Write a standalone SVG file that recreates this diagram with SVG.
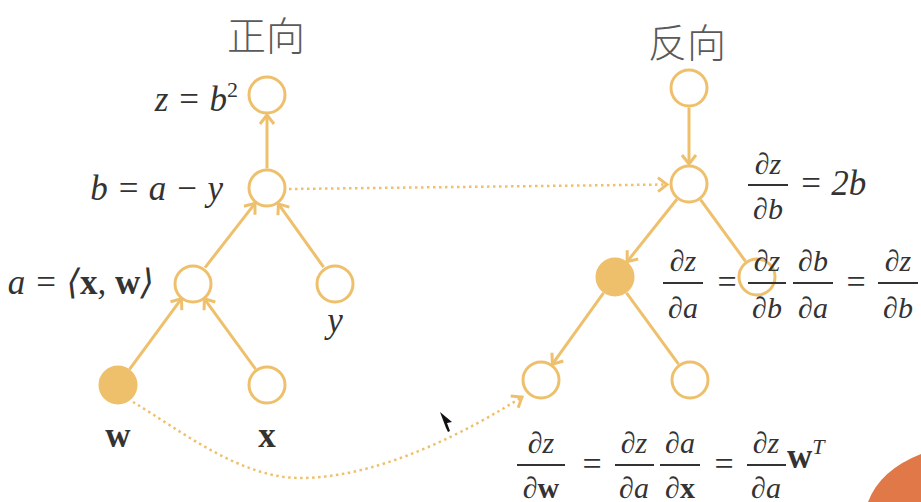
<svg xmlns="http://www.w3.org/2000/svg" width="921" height="502" viewBox="0 0 921 502">
<defs>
<style>
.node{fill:#ffffff;stroke:#EFC06C;stroke-width:3}
.filled{fill:#EFC06C;stroke:#EFC06C;stroke-width:3}
.edge{stroke:#EFC06C;stroke-width:3;fill:none}
.dot{stroke:#EFC06C;stroke-width:2.5;fill:none;stroke-dasharray:2.5 3.5}
.title{font-family:"Noto Sans CJK SC","Noto Sans",sans-serif;font-size:39px;font-weight:300;fill:#5a5a5a;text-anchor:middle}
.m{font-family:"Liberation Serif","DejaVu Serif",serif;font-size:35px;fill:#333;font-style:italic}
.f{font-family:"Liberation Serif","DejaVu Serif",serif;font-size:30px;fill:#333;font-style:italic;text-anchor:middle}
.eq{font-family:"Liberation Serif","DejaVu Serif",serif;font-size:34px;fill:#333;text-anchor:middle}
.b{font-style:normal;font-weight:bold}
.bar{stroke:#333;stroke-width:2}
</style>
<marker id="arr" markerUnits="userSpaceOnUse" markerWidth="20" markerHeight="20" viewBox="-12 -10 14 20" refX="0" refY="0" orient="auto">
<path d="M -9 -7 L 0 0 L -9 7" fill="none" stroke="#EFC06C" stroke-width="3"/>
</marker>
</defs>
<rect width="921" height="502" fill="#ffffff"/>

<text class="title" x="266" y="50">正向</text>
<text class="title" x="687" y="57">反向</text>

<g id="connectors">
<line class="edge" x1="267" y1="168.5" x2="267" y2="115" marker-end="url(#arr)"/>
<line class="edge" x1="205" y1="267.6" x2="255" y2="203.4" marker-end="url(#arr)"/>
<line class="edge" x1="323.6" y1="267.1" x2="278.4" y2="203.9" marker-end="url(#arr)"/>
<line class="edge" x1="129.5" y1="369.3" x2="181.5" y2="298.7" marker-end="url(#arr)"/>
<line class="edge" x1="255.6" y1="369.2" x2="204.4" y2="298.8" marker-end="url(#arr)"/>
<line class="edge" x1="689" y1="107.5" x2="689" y2="164" marker-end="url(#arr)"/>
<line class="edge" x1="676.9" y1="199.3" x2="627.1" y2="261.7" marker-end="url(#arr)"/>
<line class="edge" x1="700.5" y1="199.7" x2="745.5" y2="261.3"/>
<line class="edge" x1="603.6" y1="292.8" x2="552.4" y2="364.2" marker-end="url(#arr)"/>
<line class="edge" x1="626.5" y1="292.8" x2="678.5" y2="364.2"/>
<path class="dot" d="M 289 189 L 667 184.5" marker-end="url(#arr)"/>
<path class="dot" d="M 133 402 C 180 430 240 478 300 478 C 380 478 470 430 522 397" marker-end="url(#arr)"/>
</g>

<g id="node-z"><circle class="node" cx="267" cy="95" r="18"/><text class="m" x="238" y="111" text-anchor="end">z = b<tspan font-size="22" font-style="normal" dy="-14">2</tspan></text></g>
<g id="node-b"><circle class="node" cx="267" cy="188" r="18"/><text class="m" x="223" y="200" text-anchor="end">b = a − y</text></g>
<g id="node-a"><circle class="node" cx="193" cy="284" r="18"/><text class="m" x="154" y="294" text-anchor="end">a = ⟨<tspan class="b">x</tspan>, <tspan class="b">w</tspan>⟩</text></g>
<g id="node-y"><circle class="node" cx="335" cy="284" r="18"/><text class="m" x="335" y="332" text-anchor="middle">y</text></g>
<g id="node-w"><circle class="filled" cx="118" cy="385" r="18"/><text class="m b" x="118" y="447" text-anchor="middle">w</text></g>
<g id="node-x"><circle class="node" cx="267" cy="385" r="18"/><text class="m b" x="267" y="447" text-anchor="middle">x</text></g>

<g id="rnode-z"><circle class="node" cx="689" cy="88" r="18"/></g>
<g id="rnode-b"><circle class="node" cx="689" cy="184" r="18"/>
<line class="bar" x1="748" y1="185" x2="788" y2="185"/>
<text class="f" x="768" y="174">∂z</text><text class="f" x="768" y="219">∂b</text>
<text class="m" x="799" y="195">= 2b</text>
</g>
<g id="rnode-y"><circle class="node" cx="757" cy="277" r="18"/></g>
<g id="rnode-a"><circle class="filled" cx="615" cy="277" r="18"/>
<line class="bar" x1="663" y1="283" x2="703" y2="283"/>
<text class="f" x="683" y="271">∂z</text><text class="f" x="683" y="318">∂a</text>
<text class="eq" x="727" y="293">=</text>
<line class="bar" x1="748" y1="283" x2="786" y2="283"/>
<text class="f" x="767" y="271">∂z</text><text class="f" x="767" y="318">∂b</text>
<line class="bar" x1="793" y1="283" x2="833" y2="283"/>
<text class="f" x="813" y="271">∂b</text><text class="f" x="813" y="318">∂a</text>
<text class="eq" x="856" y="293">=</text>
<line class="bar" x1="878" y1="283" x2="918" y2="283"/>
<text class="f" x="898" y="271">∂z</text><text class="f" x="898" y="318">∂b</text>
</g>
<g id="rnode-w"><circle class="node" cx="541" cy="380" r="18"/>
<line class="bar" x1="517" y1="465" x2="565" y2="465"/>
<text class="f" x="541" y="453">∂z</text><text class="f" x="541" y="498">∂<tspan class="b">w</tspan></text>
<text class="eq" x="592" y="475">=</text>
<line class="bar" x1="615" y1="465" x2="654" y2="465"/>
<text class="f" x="634" y="453">∂z</text><text class="f" x="634" y="498">∂a</text>
<line class="bar" x1="660" y1="465" x2="700" y2="465"/>
<text class="f" x="680" y="453">∂a</text><text class="f" x="680" y="498">∂<tspan class="b">x</tspan></text>
<text class="eq" x="724" y="475">=</text>
<line class="bar" x1="747" y1="465" x2="786" y2="465"/>
<text class="f" x="766" y="453">∂z</text><text class="f" x="766" y="498">∂a</text>
<text class="m b" x="787" y="468">w<tspan font-size="22" font-weight="normal" font-style="italic" dy="-14">T</tspan></text>
</g>
<g id="rnode-x"><circle class="node" cx="690" cy="380" r="18"/></g>

<path d="M 446 428 L 440 412 L 452 422 L 447 423 L 450 431 L 448 432 Z" fill="#111"/>
<path d="M 868 502 Q 880 470 921 454 L 921 502 Z" fill="#E07848"/>
</svg>
